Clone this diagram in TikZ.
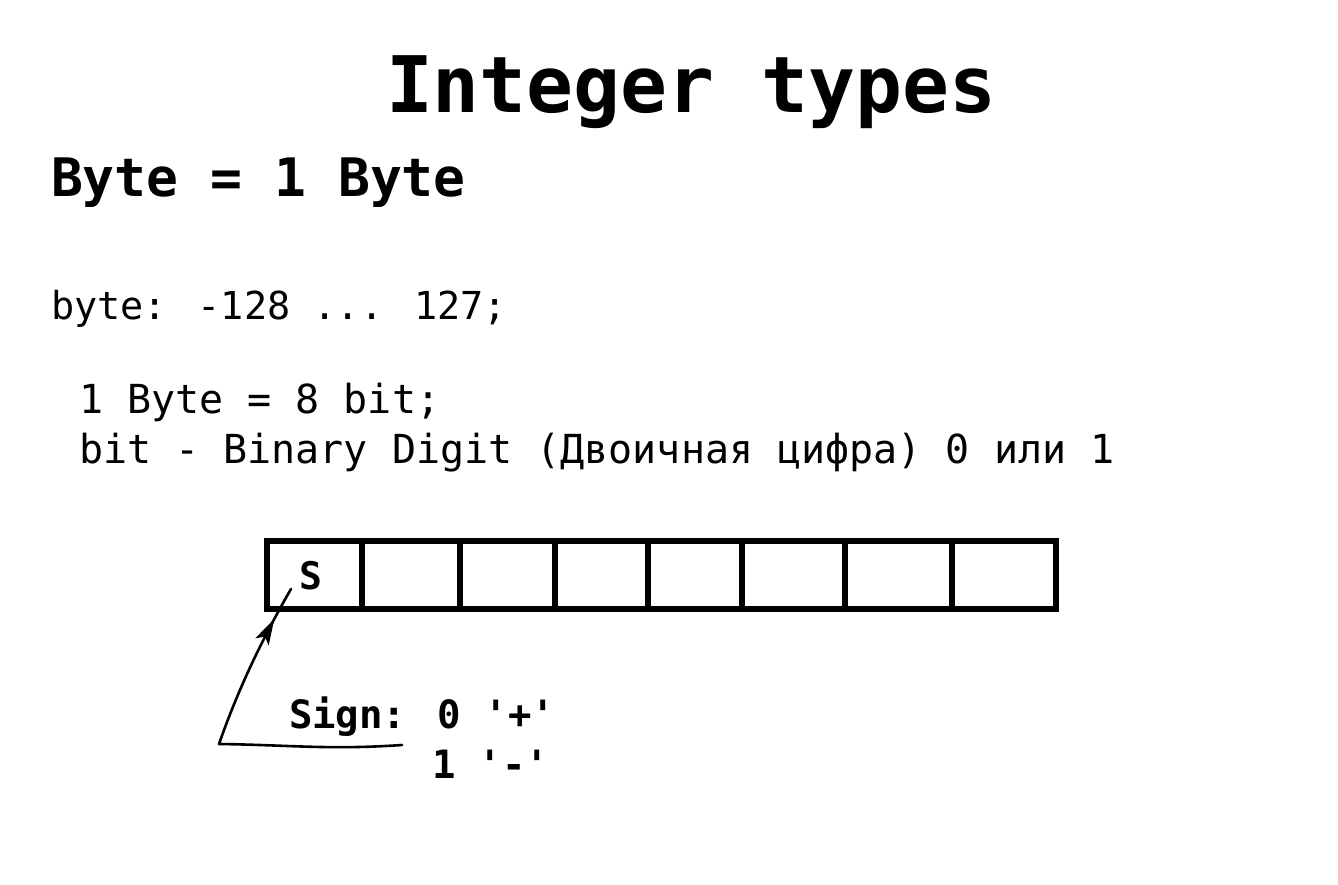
\documentclass[tikz,border=0pt]{standalone}
\usepackage{fontspec}
\usetikzlibrary{arrows.meta,decorations.markings}
\newfontfamily\codefont{DejaVu Sans Mono}
\tikzset{
  txt/.style={anchor=base west,inner sep=0pt,outer sep=0pt,text=black},
  titletxt/.style={txt,font=\codefont\bfseries\fontsize{78}{80}\selectfont},
  headtxt/.style={txt,font=\codefont\bfseries\fontsize{53}{56}\selectfont},
  bodytxt/.style={txt,font=\codefont\fontsize{40}{44}\selectfont},
  signtxt/.style={txt,font=\codefont\bfseries\fontsize{39}{44}\selectfont},
  cellline/.style={draw=black,line width=5.5pt},
  penline/.style={draw=black,line width=2.6pt,line cap=round},
  midarrow/.style={decoration={markings,
      mark=at position 0.8 with {\arrow{Stealth[length=26pt,width=15pt,inset=6pt]}}},
      postaction={decorate}}
}
\begin{document}
\begin{tikzpicture}[x=1pt,y=1pt]
\path[use as bounding box,fill=white] (0,0) rectangle (1338,884);

% headings
\node[titletxt] (title) at (386,771) {Integer types};
\node[headtxt] (head) at (51,687) {Byte = 1 Byte};

% range and explanation
\node[bodytxt,font=\codefont\fontsize{38.5}{44}\selectfont] (range) at (51,564) {byte: -128 ... 127;};
\node[bodytxt] (bytebits) at (79,470) {1 Byte = 8 bit;};
\node[bodytxt] (bitdef) at (79,420) {bit - Binary Digit (Двоичная цифра) 0 или 1};

% the eight bits
\path[cellline] (267,275) rectangle (1056,343);
\foreach \xx in {362,460,555,648,742,845,952}
  \path[cellline] (\xx,275) -- (\xx,343);
\node[txt,font=\codefont\bfseries\fontsize{38}{40}\selectfont] (sbit) at (299,294) {S};
\coordinate (spoint) at (291,295);

% sign note
\node[signtxt] (signlbl) at (289,156) {Sign: 0 '+'};
\node[signtxt] (neglbl) at (432,106) {1 '-'};
\coordinate (tail) at (219,140);
\coordinate (ulend) at (402,139);
\path[penline] (tail) .. controls (290,139) and (330,134) .. (ulend);
\path[penline,midarrow] (tail) .. controls (240,200) and (265,250) .. (spoint);
\end{tikzpicture}
\end{document}
